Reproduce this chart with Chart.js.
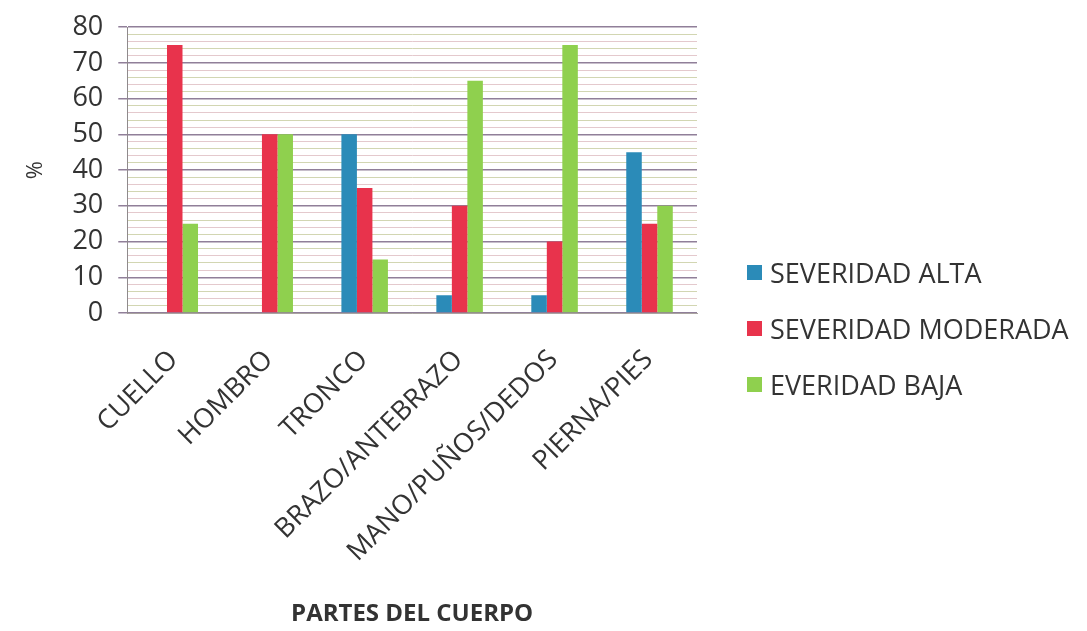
<!DOCTYPE html>
<html>
<head>
<meta charset="utf-8">
<script src="https://cdn.jsdelivr.net/npm/chart.js@4/dist/chart.umd.min.js"></script>
<style>
  html, body { margin: 0; padding: 0; background: #ffffff; }
  #wrap { position: relative; width: 1087px; height: 631px; }
  #legend { position: absolute; left: 747px; top: 244px; font-family: "Open Sans", Lato, sans-serif; font-size: 27px; color: #333333; }
  .li { height: 56px; display: flex; align-items: center; white-space: nowrap; }
  .sw { width: 15px; height: 15px; margin-right: 8px; flex: none; }
</style>
</head>
<body>
<div id="wrap"><canvas id="c" width="1087" height="631"></canvas><div id="legend"></div></div>
<script>
const categories = ['CUELLO', 'HOMBRO', 'TRONCO', 'BRAZO/ANTEBRAZO', 'MANO/PUÑOS/DEDOS', 'PIERNA/PIES'];
const seriesNames = ['SEVERIDAD ALTA', 'SEVERIDAD MODERADA', 'EVERIDAD BAJA'];
const severidadAlta = [0, 0, 50, 5, 5, 45];
const severidadModerada = [75, 50, 35, 30, 20, 25];
const severidadBaja = [25, 50, 15, 65, 75, 30];
const yMin = 0, yMax = 80, yMajorStep = 10, yMinorStep = 2;
const yTitle = '%';
const xTitle = 'PARTES DEL CUERPO';

const colors = ['#2b8bb8', '#e8334c', '#8fd04e'];
const textColor = '#333333';
const FONT = '"Open Sans", Lato, sans-serif';

const isMajor = v => Math.abs(v % yMajorStep) < 1e-9;

const chart = new Chart(document.getElementById('c'), {
  type: 'bar',
  data: {
    labels: categories,
    datasets: [
      { label: seriesNames[0], data: severidadAlta, backgroundColor: colors[0] },
      { label: seriesNames[1], data: severidadModerada, backgroundColor: colors[1] },
      { label: seriesNames[2], data: severidadBaja, backgroundColor: colors[2] }
    ]
  },
  options: {
    responsive: false,
    animation: false,
    devicePixelRatio: 1,
    datasets: { bar: { categoryPercentage: 0.49, barPercentage: 1.0, borderWidth: 0 } },
    layout: { padding: { left: 23, right: 390, top: -3, bottom: 2 } },
    plugins: {
      tooltip: { enabled: false },
      legend: { display: false }
    },
    scales: {
      x: {
        grid: { display: false, drawTicks: false },
        border: { display: true, color: '#a9a3a0', width: 1 },
        ticks: {
          color: textColor,
          font: { family: FONT, size: 27 },
          maxRotation: 45,
          minRotation: 45,
          autoSkip: false,
          padding: 31,
          labelOffset: -1
        },
        title: {
          display: true,
          text: xTitle,
          color: textColor,
          font: { family: FONT, size: 24, weight: 'bold' },
          padding: { top: 47, bottom: 0 }
        }
      },
      y: {
        min: yMin,
        max: yMax,
        border: { display: true, color: '#8f8a8c', width: 1 },
        grid: {
          color: ctx => isMajor(ctx.tick.value) ? 'rgba(125,105,135,0.85)' : (Math.round(ctx.tick.value / yMinorStep) % 2 ? 'rgba(205,210,170,0.9)' : 'rgba(225,195,200,0.9)'),
          lineWidth: ctx => isMajor(ctx.tick.value) ? 1.5 : 1,
          tickColor: ctx => isMajor(ctx.tick.value) ? 'rgba(125,105,135,0.85)' : 'rgba(0,0,0,0)',
          tickLength: 9
        },
        ticks: {
          stepSize: yMinorStep,
          autoSkip: false,
          color: textColor,
          font: { family: FONT, size: 27, lineHeight: 0.9 },
          padding: 15,
          callback: v => isMajor(v) ? String(v) : ''
        },
        title: {
          display: true,
          text: yTitle,
          color: textColor,
          font: { family: FONT, size: 22 },
          padding: { top: 0, bottom: 8 }
        }
      }
    }
  }
});

const legendEl = document.getElementById('legend');
chart.data.datasets.forEach(ds => {
  const row = document.createElement('div');
  row.className = 'li';
  const sw = document.createElement('span');
  sw.className = 'sw';
  sw.style.background = ds.backgroundColor;
  const tx = document.createElement('span');
  tx.textContent = ds.label;
  row.appendChild(sw);
  row.appendChild(tx);
  legendEl.appendChild(row);
});
</script>
</body>
</html>
